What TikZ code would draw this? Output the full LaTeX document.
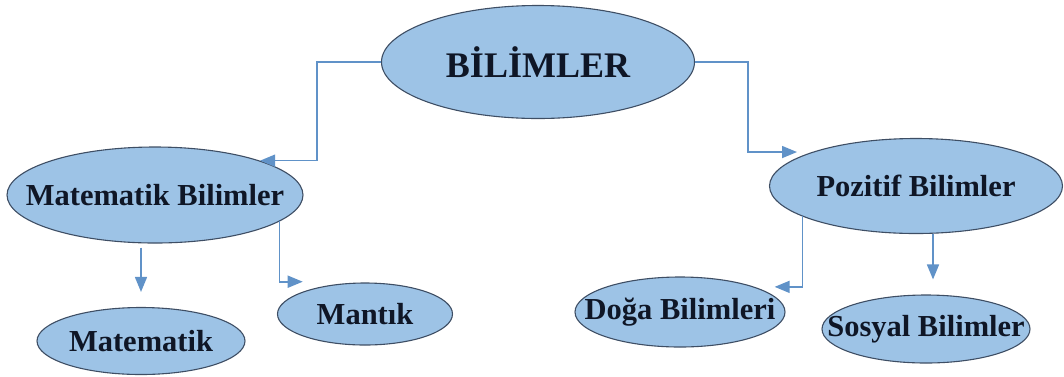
\documentclass[tikz,border=0pt]{standalone}
\usepackage{fontspec}
\setmainfont{Liberation Serif}
\usetikzlibrary{shapes.geometric,arrows.meta}
\definecolor{blobfill}{RGB}{157,195,230}
\definecolor{blobline}{RGB}{62,78,100}
\definecolor{linkblue}{RGB}{96,146,200}
\definecolor{inkdark}{RGB}{15,22,38}
\newcommand{\blobtext}[1]{\makebox[0pt]{#1}}
\tikzset{
	blob/.style={ellipse,draw=blobline,line width=1.1pt,fill=blobfill,
		inner sep=0pt,text=inkdark,font=\bfseries\fontsize{30.5}{36}\selectfont},
	link/.style={draw=linkblue,line width=1.6pt,
		-{Triangle[length=15pt,width=12pt]}}
}
\begin{document}
\begin{tikzpicture}[x=1pt,y=-1pt]
	\useasboundingbox (0,0) rectangle (1064,376);
	
	\node[blob,minimum width=313pt,minimum height=113pt,
	font=\bfseries\fontsize{36}{42}\selectfont] (bil) at (538,62) 
	{\blobtext{BİLİMLER}};
	
	\node[blob,minimum width=296pt,minimum height=96pt] (matb) at 
	(155,195) {\blobtext{Matematik Bilimler}};
	\node[blob,minimum width=293pt,minimum height=95pt] (pos) at 
	(916,186) {\blobtext{Pozitif Bilimler}};
	
	\node[blob,minimum width=208pt,minimum height=67pt] (mat) at 
	(141,341) {\blobtext{Matematik}};
	\node[blob,minimum width=175pt,minimum height=62pt] (man) at 
	(365,314) {\blobtext{Mantık}};
	\node[blob,minimum width=210pt,minimum height=70pt] (dog) at 
	(680,312) {\blobtext{Doğa Bilimleri}};
	\node[blob,minimum width=208pt,minimum height=68pt] (sos) at 
	(926,329) {\blobtext{Sosyal Bilimler}};
	
	\draw[link] (bil.west) -- ++(-64,0) |- (matb.north east);
	\draw[link,shorten >=15pt] (bil.east) -- ++(53,0) |- (pos.north west);
	
	\draw[link,shorten <=4pt,shorten >=15pt] (mat.north |- matb.south) 
	-- (mat.north);
	\draw[link] (matb.-12) |- ([yshift=10pt]man.north west);
	
	\draw[link,shorten >=20pt] (pos.195) |- (dog.north east);
	\draw[link,shorten >=15pt] ([xshift=17pt]pos.south) -- 
	([xshift=7pt]sos.north);
\end{tikzpicture}
\end{document}
